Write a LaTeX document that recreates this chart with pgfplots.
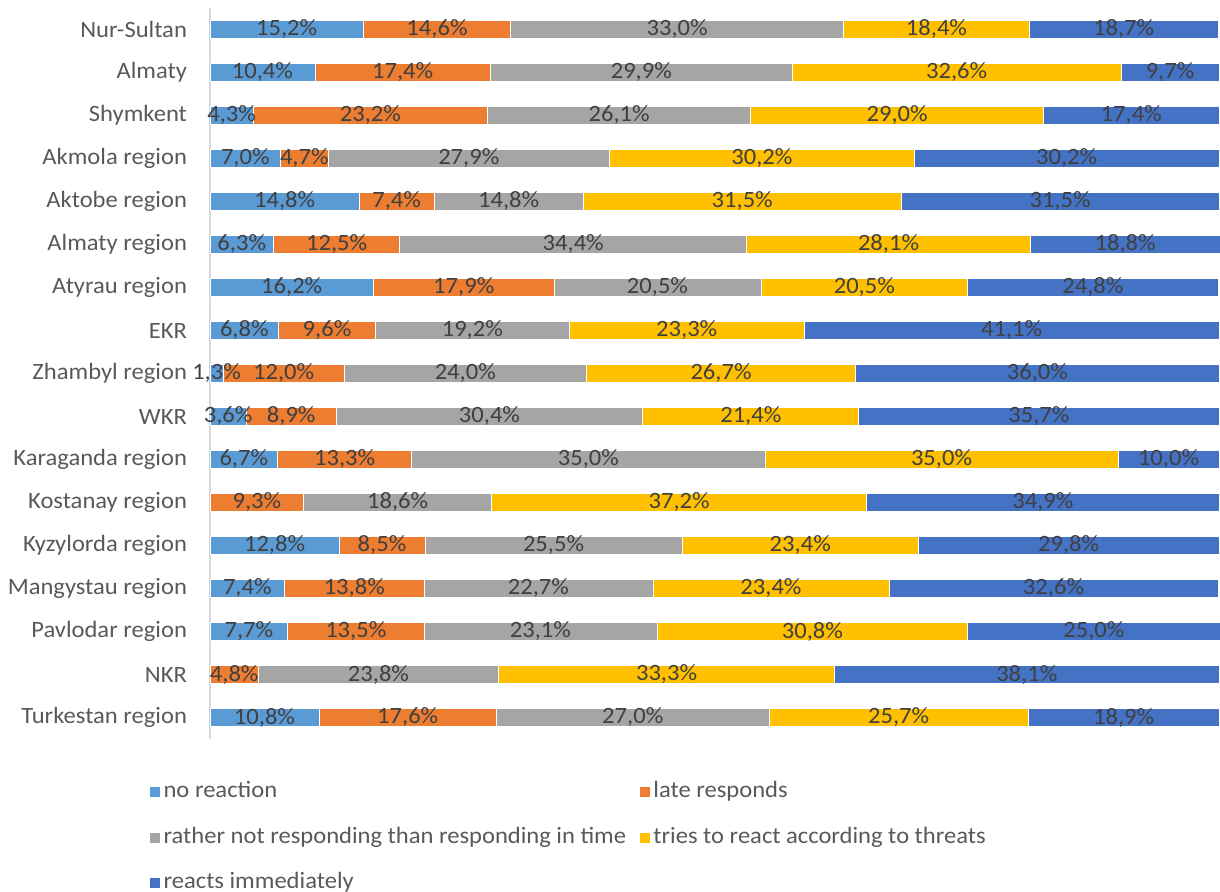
\documentclass[border=0pt]{standalone}
\usepackage{fontspec}
\setmainfont{Carlito}[FakeStretch=1.05]
\usepackage{pgfplots}
\usepackage{pgfplotstable}
\pgfplotsset{compat=1.18}

\definecolor{nrC}{HTML}{5B9BD5}
\definecolor{lrC}{HTML}{ED7D31}
\definecolor{rnC}{HTML}{A5A5A5}
\definecolor{trC}{HTML}{FFC000}
\definecolor{riC}{HTML}{4472C4}
\definecolor{labtext}{HTML}{404040}
\definecolor{labgray}{HTML}{595959}
\definecolor{axisgray}{HTML}{D9D9D9}

% shares in %, top row first
\pgfplotstableread{
idx nr   lr   rn   tr   ri
0   15.2 14.6 33.0 18.4 18.7
1   10.4 17.4 29.9 32.6 9.7
2   4.3  23.2 26.1 29.0 17.4
3   7.0  4.7  27.9 30.2 30.2
4   14.8 7.4  14.8 31.5 31.5
5   6.3  12.5 34.4 28.1 18.8
6   16.2 17.9 20.5 20.5 24.8
7   6.8  9.6  19.2 23.3 41.1
8   1.3  12.0 24.0 26.7 36.0
9   3.6  8.9  30.4 21.4 35.7
10  6.7  13.3 35.0 35.0 10.0
11  0    9.3  18.6 37.2 34.9
12  12.8 8.5  25.5 23.4 29.8
13  7.4  13.8 22.7 23.4 32.6
14  7.7  13.5 23.1 30.8 25.0
15  0    4.8  23.8 33.3 38.1
16  10.8 17.6 27.0 25.7 18.9
}\data

\newcommand\lblfont{\fontsize{11.7}{14}\selectfont}

\begin{document}
\begin{tikzpicture}
\begin{axis}[
  at={(0,0)}, anchor=south west,
  scale only axis, width=505pt, height=365.5pt,
  xbar stacked, bar width=9pt,
  xmin=0, xmax=100.1, ymin=-0.5, ymax=16.5, y dir=reverse,
  axis x line=none, axis y line*=left,
  y axis line style={draw=axisgray, line width=0.8pt, -},
  ytick={0,...,16},
  yticklabels={Nur-Sultan, Almaty, Shymkent, Akmola region, Aktobe region,
    Almaty region, Atyrau region, EKR, Zhambyl region, WKR, Karaganda region,
    Kostanay region, Kyzylorda region, Mangystau region, Pavlodar region, NKR,
    Turkestan region},
  major tick length=0pt,
  yticklabel style={text=labgray, font=\lblfont, xshift=-8pt},
  /pgf/number format/assume math mode=true,
  lbl/.style={visualization depends on={\thisrow{#1}\as\rawval}},
  nodes near coords={\ifdim\rawval pt>0pt \pgfmathprintnumber[fixed,fixed zerofill,precision=1,use comma]{\rawval}\%\fi},
  nodes near coords align={center},
  every node near coord/.append style={anchor=center, text=labtext,
    font=\lblfont},
  legend columns=2,
  legend cell align=left,
  legend image code/.code={\fill[#1] (0pt,-2.9pt) rectangle (5.2pt,2.6pt);},
  legend style={at={(-0.0604,-0.0525)}, anchor=north west, draw=none, fill=none,
    inner sep=0pt, row sep=8.8pt,
    /tikz/every even column/.append style={column sep=5pt},
    nodes={text height=8.5pt, text depth=2.5pt, inner sep=1.5pt, text=labgray,
      font=\lblfont}},
]
\addplot[fill=nrC, draw=white, line width=0.4pt, lbl=nr] table[x=nr, y=idx]{\data};
\addplot[fill=lrC, draw=white, line width=0.4pt, lbl=lr] table[x=lr, y=idx]{\data};
\addplot[fill=rnC, draw=white, line width=0.4pt, lbl=rn] table[x=rn, y=idx]{\data};
\addplot[fill=trC, draw=white, line width=0.4pt, lbl=tr] table[x=tr, y=idx]{\data};
\addplot[fill=riC, draw=white, line width=0.4pt, lbl=ri] table[x=ri, y=idx]{\data};
\legend{no reaction, late responds, rather not responding than responding in time,
  tries to react according to threats, reacts immediately}
\end{axis}
\pgfresetboundingbox
\path[use as bounding box] (-105pt,-76.5pt) rectangle (505pt,369.5pt);
\end{tikzpicture}
\end{document}
